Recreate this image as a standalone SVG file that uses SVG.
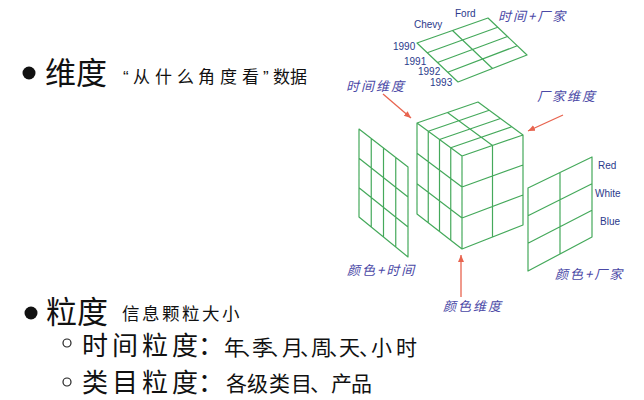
<svg xmlns="http://www.w3.org/2000/svg" width="644" height="400" viewBox="0 0 644 400">
<defs>
<style>
.grid{fill:none;stroke:#45a95b;stroke-width:1.2;stroke-linejoin:round}
.arr{fill:none;stroke:#e8644f;stroke-width:1.3}
.big{font-family:"Noto Sans CJK SC","Noto Sans CJK JP",sans-serif;fill:#111}
.hand{font-family:"Noto Sans CJK SC",sans-serif;font-size:13px;fill:#4a48a6;font-style:italic;letter-spacing:2px}
.en{font-family:"Liberation Sans",Arial,sans-serif;font-size:10px;fill:#2b3a8c}
</style>
<marker id="ah" markerWidth="8" markerHeight="8" refX="7" refY="4" orient="auto" markerUnits="userSpaceOnUse">
<path d="M0,1 L7,4 L0,7 Z" fill="#e8644f"/>
</marker>
</defs>
<rect width="644" height="400" fill="#ffffff"/>

<g id="bullet-dimension">
<circle cx="29" cy="73" r="6.5" fill="#111"/>
<text class="big" x="45" y="84" font-size="31">维度</text>
<text class="big" y="83" font-size="17" x="123 133 155 177 198 220 242 263 273 290" style='font-family:"Liberation Sans","Noto Sans CJK SC",sans-serif'>“从什么角度看”数据</text>
</g>

<g id="bullet-granularity">
<circle cx="31" cy="313" r="6.5" fill="#111"/>
<text class="big" x="46" y="323" font-size="31">粒度</text>
<text class="big" y="320" font-size="17.5" x="122 142 162 182 202 222">信息颗粒大小</text>
</g>

<g id="sub-time">
<circle cx="67" cy="343" r="4" fill="none" stroke="#222" stroke-width="1.2"/>
<text class="big" y="355" font-size="26" x="82 112 142 172 198">时间粒度：</text>
<text class="big" y="355" font-size="21" x="224 242 252 270 282 300 311 329 339 359 371 396">年、季、月、周、天、小时</text>
</g>

<g id="sub-category">
<circle cx="67" cy="382" r="4" fill="none" stroke="#222" stroke-width="1.2"/>
<text class="big" y="392" font-size="26" x="82 112 142 172 198">类目粒度：</text>
<text class="big" y="391" font-size="21" x="226 247 269 291 310 331 351">各级类目、产品</text>
</g>

<g id="plane-time-maker">
<path class="grid" d="M417,43 L488,18 L527,55 L458,82 Z M452.5,30.5 L492.5,68.5 M427.25,52.75 L497.75,27.25 M437.5,62.5 L507.5,36.5 M447.75,72.25 L517.25,45.75"/>
<text class="en" x="414" y="28">Chevy</text>
<text class="en" x="455" y="17">Ford</text>
<text class="en" x="393" y="50">1990</text>
<text class="en" x="404" y="65">1991</text>
<text class="en" x="418" y="75">1992</text>
<text class="en" x="430" y="86">1993</text>
<text class="hand" x="498" y="21">时间+厂家</text>
</g>

<g id="cube">
<path class="grid" d="M417,123 L478,102 L523,135 L523,225 L462,249 L417,214 Z M417,123 L462,156 L523,135 M462,156 L462,249
M428.25,131.25 L428.25,222.75 M439.5,139.5 L439.5,231.5 M450.75,147.75 L450.75,240.25
M417,153.3 L462,187 L523,165 M417,183.7 L462,218 L523,195
M492.5,145.5 L492.5,237
M428.25,131.25 L489.25,110.25 M439.5,139.5 L500.5,118.5 M450.75,147.75 L511.75,126.75
M447.5,112.5 L492.5,145.5"/>
</g>

<g id="plane-color-time">
<path class="grid" d="M359,129 L408,167 L408,257 L359,217 Z M371.25,138.5 L371.25,227 M383.5,148 L383.5,237 M395.75,157.5 L395.75,247 M359,158.3 L408,197 M359,187.7 L408,227"/>
<text class="hand" x="347" y="275">颜色+时间</text>
</g>

<g id="plane-color-maker">
<path class="grid" d="M528,188 L592,157 L592,237 L528,271 Z M560,172.5 L560,254 M528,215.7 L592,183.7 M528,243.3 L592,210.3"/>
<text class="en" x="598" y="169">Red</text>
<text class="en" x="595" y="197">White</text>
<text class="en" x="600" y="225">Blue</text>
<text class="hand" x="555" y="279">颜色+厂家</text>
</g>

<g id="label-time-dim"><text class="hand" x="346" y="91">时间维度</text></g>
<g id="label-maker-dim"><text class="hand" x="537" y="101">厂家维度</text></g>
<g id="label-color-dim"><text class="hand" x="443" y="311">颜色维度</text></g>

<g id="connectors">
<path class="arr" d="M383,94 L411,118" marker-end="url(#ah)"/>
<path class="arr" d="M563,115 L528,131" marker-end="url(#ah)"/>
<path class="arr" d="M461,297 L461,255" marker-end="url(#ah)"/>
</g>
</svg>
